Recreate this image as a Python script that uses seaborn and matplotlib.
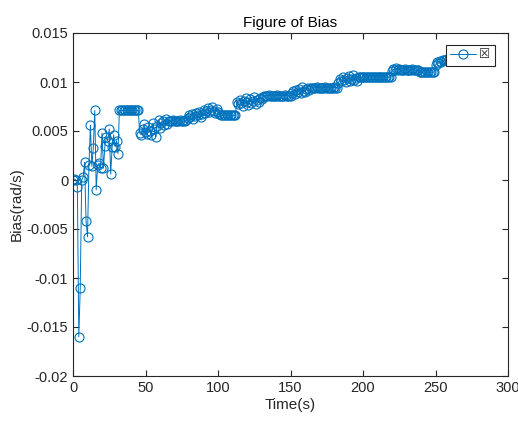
import numpy as np
import pandas as pd
import matplotlib
matplotlib.use("Agg")
import matplotlib.pyplot as plt
import seaborn as sns

# ---- data ----
bias_start = [0.0000, 0.0001, 0.0000, -0.0007, -0.0160, -0.0110, 0.0000, 0.0003,
              0.0018, -0.0042, -0.0058, 0.0015, 0.0056, 0.0014, 0.0033, 0.0071,
              -0.0010, 0.0015, 0.0017, 0.0012, 0.0048, 0.0012, 0.0035, 0.0044,
              0.0040, 0.0052, 0.0006, 0.0034, 0.0046, 0.0034, 0.0040, 0.0027]
bias_flat1 = [0.0071, 0.0071, 0.0071, 0.0071, 0.0071, 0.0071, 0.0071,
              0.0071, 0.0071, 0.0071, 0.0071, 0.0071, 0.0071, 0.0071]
bias_mid1 = [0.0048, 0.0046, 0.0052, 0.0057, 0.0049, 0.0047, 0.0054, 0.0050,
             0.0046, 0.0058, 0.0052, 0.0044, 0.0055, 0.0061, 0.0053,
             0.0058, 0.0060, 0.0056, 0.0062, 0.0057]
bias_flat2 = [0.0060, 0.0060, 0.0060, 0.0061, 0.0060, 0.0060, 0.0060,
              0.0060, 0.0061, 0.0060, 0.0060, 0.0060, 0.0061]
bias_mid2 = [0.0063, 0.0066, 0.0064, 0.0067, 0.0062, 0.0065, 0.0068, 0.0066,
             0.0069, 0.0064, 0.0067, 0.0071, 0.0068, 0.0070, 0.0073, 0.0069,
             0.0071, 0.0074, 0.0070, 0.0068, 0.0072, 0.0069, 0.0067]
bias_flat3 = [0.0066, 0.0066, 0.0066, 0.0066, 0.0066, 0.0066, 0.0066,
              0.0066, 0.0066, 0.0066, 0.0066]
bias_mid3 = [0.0080, 0.0078, 0.0082, 0.0079, 0.0076, 0.0081, 0.0084, 0.0080,
             0.0077, 0.0083, 0.0079, 0.0081, 0.0085, 0.0078, 0.0082, 0.0080,
             0.0084, 0.0083, 0.0085]
bias_flat4 = [0.0086, 0.0086, 0.0086, 0.0087, 0.0086, 0.0086, 0.0086, 0.0086,
              0.0086, 0.0087, 0.0086, 0.0086, 0.0086, 0.0086, 0.0087, 0.0086,
              0.0086, 0.0086, 0.0086]
bias_mid4 = [0.0089, 0.0091, 0.0088, 0.0092, 0.0090, 0.0093, 0.0089, 0.0095,
             0.0091, 0.0090, 0.0093, 0.0094, 0.0092]
bias_flat5 = [0.0094, 0.0094, 0.0094, 0.0094, 0.0095, 0.0094, 0.0094, 0.0094,
              0.0094, 0.0094, 0.0095, 0.0094, 0.0094, 0.0094, 0.0094, 0.0094,
              0.0095, 0.0094, 0.0094]
bias_mid5 = [0.0099, 0.0103, 0.0101, 0.0105, 0.0102, 0.0100, 0.0104, 0.0106,
             0.0101, 0.0103, 0.0107, 0.0102, 0.0104, 0.0101, 0.0105]
bias_flat6 = [0.0105, 0.0105, 0.0105, 0.0105, 0.0105, 0.0105, 0.0105, 0.0105,
              0.0105, 0.0105, 0.0105, 0.0105, 0.0105, 0.0105, 0.0105, 0.0105,
              0.0105, 0.0105, 0.0105, 0.0105, 0.0105, 0.0105]
bias_flat7 = [0.0111, 0.0113, 0.0112, 0.0114, 0.0112, 0.0113, 0.0112, 0.0112,
              0.0112, 0.0113, 0.0112, 0.0112, 0.0112, 0.0112, 0.0113, 0.0112,
              0.0112, 0.0112, 0.0112]
bias_flat8 = [0.0110, 0.0110, 0.0110, 0.0110, 0.0110, 0.0110,
              0.0110, 0.0110, 0.0110, 0.0110, 0.0110]
bias_end = [0.0117, 0.0120, 0.0119, 0.0121, 0.0120, 0.0122, 0.0122, 0.0122,
            0.0123, 0.0123, 0.0123, 0.0124]

bias = (bias_start + bias_flat1 + bias_mid1 + bias_flat2 + bias_mid2 + bias_flat3
        + bias_mid3 + bias_flat4 + bias_mid4 + bias_flat5 + bias_mid5 + bias_flat6
        + bias_flat7 + bias_flat8 + bias_end)
time_s = list(range(len(bias)))  # one sample per second

x_ticks = [0, 50, 100, 150, 200, 250, 300]
y_ticks = [-0.02, -0.015, -0.01, -0.005, 0, 0.005, 0.01, 0.015]
y_ticklabels = ["-0.02", "-0.015", "-0.01", "-0.005", "0", "0.005", "0.01", "0.015"]
legend_label = "\u2612"

df = pd.DataFrame({"Time(s)": time_s, "Bias": bias})

sns.set_theme(style="white")
plt.rcParams["font.family"] = ["Liberation Sans", "DejaVu Sans"]

color = "#0072BD"
fig = plt.figure(figsize=(5.18, 4.22), dpi=100)
ax = fig.add_axes([73 / 518, 1 - 376 / 422, 435 / 518, 343 / 422])

sns.lineplot(data=df, x="Time(s)", y="Bias", ax=ax, color=color, linewidth=0.7,
             marker="o", markersize=6.5, markerfacecolor="none",
             markeredgecolor=color, markeredgewidth=0.8, label=legend_label,
             sort=False)

ax.set_xlim(0, 300)
ax.set_ylim(-0.02, 0.015)
ax.set_xticks(x_ticks)
ax.set_xticklabels([str(v) for v in x_ticks])
ax.set_yticks(y_ticks)
ax.set_yticklabels(y_ticklabels)
ax.tick_params(direction="in", length=4, width=0.8, colors="#262626",
               labelsize=10.5, top=True, right=True, bottom=True, left=True,
               labelcolor="#262626")
for s in ax.spines.values():
    s.set_visible(True)
    s.set_color("#262626")
    s.set_linewidth(0.8)

ax.set_xlabel("Time(s)", fontsize=11, color="#262626", labelpad=2)
ax.set_ylabel("Bias(rad/s)", fontsize=11, color="#262626", labelpad=2)
ax.set_title("Figure of Bias", fontsize=11, color="black", pad=4)

leg = ax.legend(loc="upper right", bbox_to_anchor=(0.970, 0.965), frameon=True,
                fancybox=False, fontsize=9, handlelength=2.1,
                borderpad=0.35, handletextpad=0.25, borderaxespad=0)
leg.get_frame().set_edgecolor("#262626")
leg.get_frame().set_linewidth(0.8)
leg.get_frame().set_alpha(1)

fig.savefig("out.png", dpi=100)
